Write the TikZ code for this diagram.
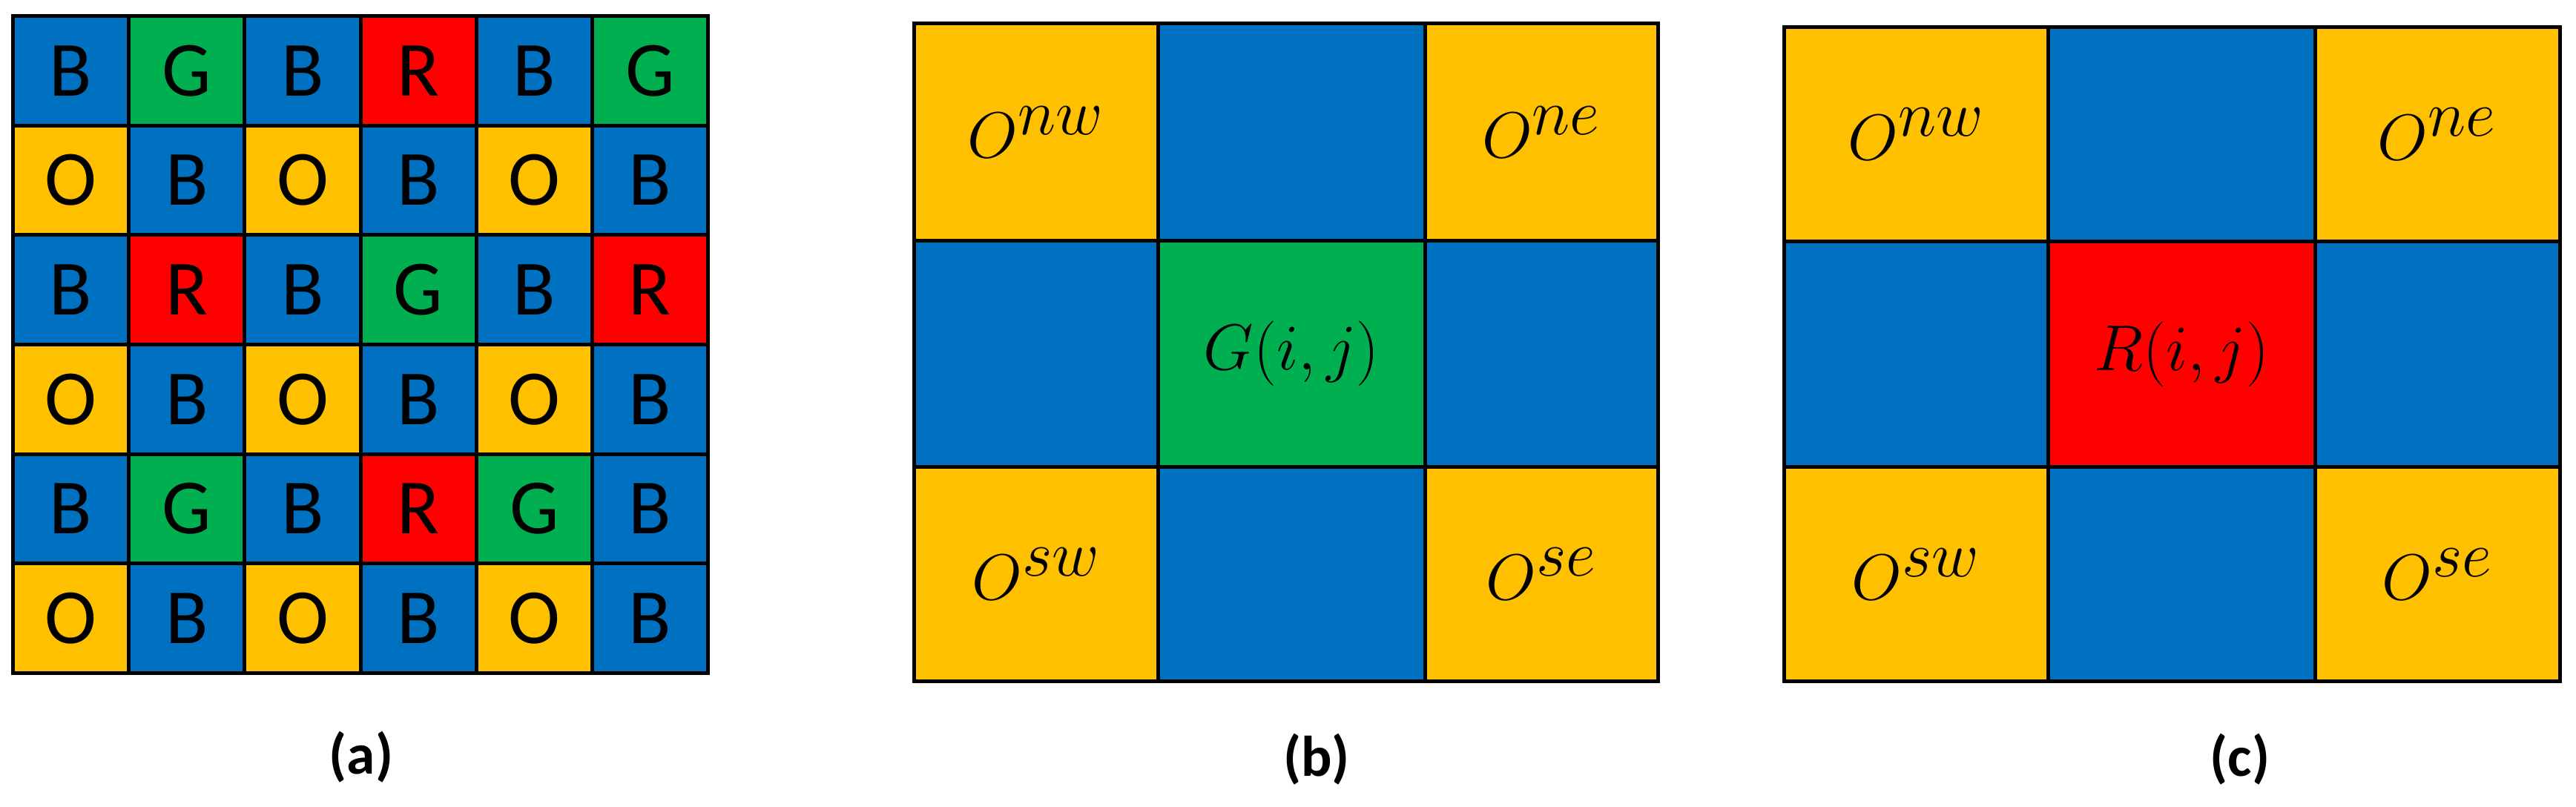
\documentclass[tikz,border=0pt]{standalone}
\usepackage{fontspec}
\newfontfamily\cellfont{Carlito}
\usepackage{xcolor}
\definecolor{bayblue}{RGB}{0,112,192}
\definecolor{baygreen}{RGB}{0,176,80}
\definecolor{bayred}{RGB}{255,0,0}
\definecolor{bayorange}{RGB}{255,192,0}
\usepackage{tikz}
\usetikzlibrary{positioning}
\tikzset{
  cell/.style={draw=black, line width=0.05cm, inner sep=0pt, minimum width=1.5617cm, minimum height=1.4767cm, font=\cellfont\fontsize{30}{30}\selectfont},
  cB/.style={cell, fill=bayblue},
  cG/.style={cell, fill=baygreen},
  cR/.style={cell, fill=bayred},
  cO/.style={cell, fill=bayorange},
  big/.style={draw=black, line width=0.05cm, inner sep=0pt, font=\fontsize{33}{33}\selectfont},
  sublbl/.style={font=\cellfont\bfseries\fontsize{22}{22}\selectfont}
}
\begin{document}
\begin{tikzpicture}
  \useasboundingbox (0,0) rectangle (34.73,-10.87);
  % (a) mosaic
  \foreach \row [count=\r] in {{B,G,B,R,B,G},{O,B,O,B,O,B},{B,R,B,G,B,R},{O,B,O,B,O,B},{B,G,B,R,G,B},{O,B,O,B,O,B}}{
    \foreach \ch [count=\c] in \row{
      \node[c\ch] (a-\r-\c) at ({0.175+(\c-0.5)*1.5617},{-0.215-(\r-0.5)*1.4767}) {\ch};
    }
  }
  \node[sublbl] (capa) at (4.87,-10.21) {(a)};

  % (b) green centre
  \node[big, fill=bayorange, minimum width=3.29cm, minimum height=2.931cm] (b-nw) at (13.97,-1.7805) {$O^{nw}$};
  \node[big, fill=bayblue, minimum width=3.595cm, minimum height=2.931cm] (b-n) at (17.4125,-1.7805) {};
  \node[big, fill=bayorange, minimum width=3.145cm, minimum height=2.931cm] (b-ne) at (20.7825,-1.7805) {$O^{ne}$};
  \node[big, fill=bayblue, minimum width=3.29cm, minimum height=3.049cm] (b-w) at (13.97,-4.7705) {};
  \node[big, fill=baygreen, minimum width=3.595cm, minimum height=3.049cm] (b-c) at (17.4125,-4.7705) {$G(i,j)$};
  \node[big, fill=bayblue, minimum width=3.145cm, minimum height=3.049cm] (b-e) at (20.7825,-4.7705) {};
  \node[big, fill=bayorange, minimum width=3.29cm, minimum height=2.89cm] (b-sw) at (13.97,-7.74) {$O^{sw}$};
  \node[big, fill=bayblue, minimum width=3.595cm, minimum height=2.89cm] (b-s) at (17.4125,-7.74) {};
  \node[big, fill=bayorange, minimum width=3.145cm, minimum height=2.89cm] (b-se) at (20.7825,-7.74) {$O^{se}$};
  \node[sublbl] (capb) at (17.75,-10.24) {(b)};

  % (c) red centre
  \node[big, fill=bayorange, minimum width=3.557cm, minimum height=2.887cm] (c-nw) at (25.8335,-1.8085) {$O^{nw}$};
  \node[big, fill=bayblue, minimum width=3.599cm, minimum height=2.887cm] (c-n) at (29.4115,-1.8085) {};
  \node[big, fill=bayorange, minimum width=3.299cm, minimum height=2.887cm] (c-ne) at (32.8605,-1.8085) {$O^{ne}$};
  \node[big, fill=bayblue, minimum width=3.557cm, minimum height=3.047cm] (c-w) at (25.8335,-4.7755) {};
  \node[big, fill=bayred, minimum width=3.599cm, minimum height=3.047cm] (c-c) at (29.4115,-4.7755) {$R(i,j)$};
  \node[big, fill=bayblue, minimum width=3.299cm, minimum height=3.047cm] (c-e) at (32.8605,-4.7755) {};
  \node[big, fill=bayorange, minimum width=3.557cm, minimum height=2.886cm] (c-sw) at (25.8335,-7.742) {$O^{sw}$};
  \node[big, fill=bayblue, minimum width=3.599cm, minimum height=2.886cm] (c-s) at (29.4115,-7.742) {};
  \node[big, fill=bayorange, minimum width=3.299cm, minimum height=2.886cm] (c-se) at (32.8605,-7.742) {$O^{se}$};
  \node[sublbl] (capc) at (30.20,-10.24) {(c)};
\end{tikzpicture}
\end{document}
